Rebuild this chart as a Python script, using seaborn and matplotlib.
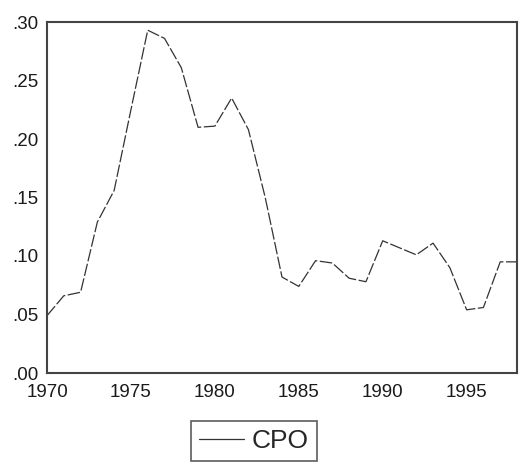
import pandas as pd
import numpy as np
import matplotlib
matplotlib.use("Agg")
import matplotlib.pyplot as plt
import seaborn as sns
from matplotlib.ticker import FuncFormatter
from matplotlib.lines import Line2D

# Data
years = list(range(1970, 1999))
cpo = [0.049, 0.066, 0.069, 0.129, 0.156, 0.225, 0.293, 0.286, 0.261, 0.210,
       0.211, 0.235, 0.208, 0.150, 0.082, 0.074, 0.096, 0.094, 0.081, 0.078,
       0.113, 0.107, 0.101, 0.111, 0.090, 0.054, 0.056, 0.095, 0.095]

df = pd.DataFrame({"year": years, "CPO": cpo})

sns.set_style("white")
plt.rcParams['font.family'] = ['Liberation Sans', 'DejaVu Sans']

fig = plt.figure(figsize=(5.24, 4.65), dpi=100)
ax = fig.add_axes([47/524, 1 - 373/465, 470/524, 351/465])

sns.lineplot(data=df, x="year", y="CPO", ax=ax, color="#333333",
             linewidth=0.9, legend=False)
ax.lines[0].set_dashes([10, 2])

ax.set_xlim(1970, 1998)
ax.set_ylim(0, 0.30)
ax.set_xticks([1970, 1975, 1980, 1985, 1990, 1995])
ax.set_yticks([0, 0.05, 0.10, 0.15, 0.20, 0.25, 0.30])
ax.yaxis.set_major_formatter(FuncFormatter(lambda v, p: f"{v:.2f}".lstrip("0")))
ax.set_xlabel("")
ax.set_ylabel("")
ax.tick_params(axis="both", length=0, labelsize=13.5, colors="#1a1a1a")
ax.tick_params(axis="y", pad=6)
ax.tick_params(axis="x", pad=8)

for s in ax.spines.values():
    s.set_visible(True)
    s.set_color("#444444")
    s.set_linewidth(1.5)

# Legend below the plot, solid sample line
handle = Line2D([], [], color="#333333", linewidth=0.9)
leg = fig.legend([handle], ["CPO"], loc="center",
                 bbox_to_anchor=(254/524, 1 - 441/465),
                 fontsize=19, frameon=True, fancybox=False,
                 handlelength=1.7, handletextpad=0.3, borderpad=0.3)
leg.get_frame().set_edgecolor("#333333")
leg.get_frame().set_linewidth(1.2)

plt.savefig("out.png", dpi=100)
